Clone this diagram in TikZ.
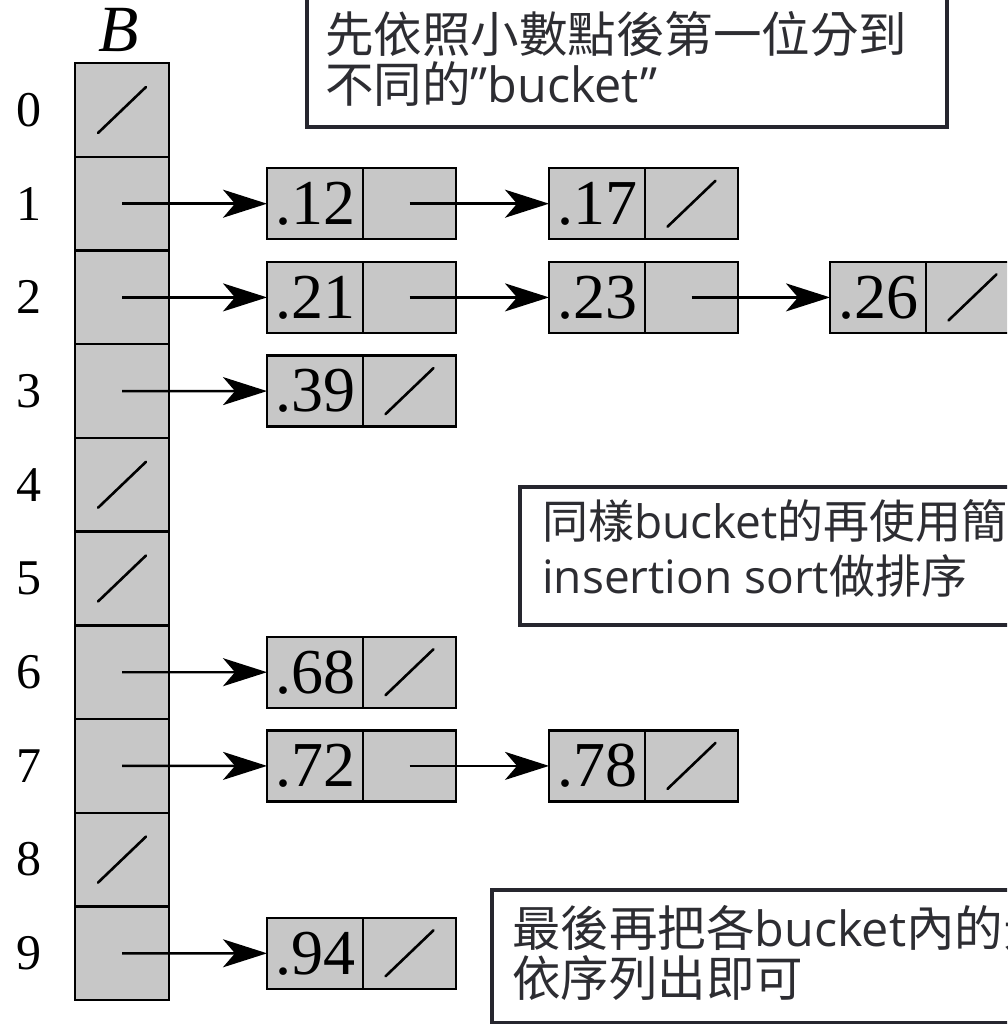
\documentclass[tikz,border=0pt]{standalone}
\usepackage{fontspec}
\setmainfont{Liberation Serif}
\newfontfamily\cjk{Noto Sans CJK TC}
\newfontfamily\lat{Open Sans}
\usetikzlibrary{arrows.meta}
\definecolor{cellgray}{RGB}{199,199,199}
\definecolor{boxline}{RGB}{38,38,46}
\definecolor{notecol}{RGB}{45,45,50}
\newcommand\listelem[4]{%
  \node[valcell] (v#1) at ({#2+48},#3) {#4};
  \node[ptrcell] (p#1) at ({#2+96+46.5},#3) {};}
\newcommand\nilmark[1]{%
  \draw[nilline] ([shift={(-24,23)}]#1.center) -- ([shift={(24,-23)}]#1.center);}
\begin{document}
\begin{tikzpicture}[x=1pt,y=-1pt,
  bcell/.style={draw=black, fill=cellgray, line width=2.4pt, minimum width=94pt, minimum height=93.7pt, inner sep=0pt, outer sep=0pt},
  valcell/.style={draw=black, fill=cellgray, line width=2.4pt, minimum width=96pt, minimum height=71pt, inner sep=0pt, outer sep=0pt, font=\fontsize{64}{64}\selectfont},
  ptrcell/.style={draw=black, fill=cellgray, line width=2.4pt, minimum width=93pt, minimum height=71pt, inner sep=0pt, outer sep=0pt},
  ptr/.style={line width=2.4pt, -{Stealth[length=44pt,width=28pt,inset=12pt]}},
  nilline/.style={line width=2.6pt, line cap=round},
  idx/.style={font=\fontsize{50}{50}\selectfont, inner sep=0pt},
  notebox/.style={draw=boxline, line width=4pt, fill=white, inner sep=0pt},
  notetext/.style={anchor=base west, inner sep=0pt, text=notecol},
  big/.style={font=\fontsize{48.5}{50}\selectfont\cjk},
  mid/.style={font=\fontsize{46}{50}\selectfont\cjk},
]
\useasboundingbox (0,0) rectangle (1007,1024);
\clip (0,0) rectangle (1007,1024);
\fill[white] (0,0) rectangle (1007,1024);

\node[font=\fontsize{66}{66}\selectfont\itshape, inner sep=0pt] (blabel) at (119,30) {B};
\foreach \i in {0,...,9} {
  \node[bcell] (b\i) at (122,{110+93.7*\i}) {};
  \node[idx] (l\i) at (29,{110+93.7*\i}) {\i};
}

\listelem{12}{267}{203.7}{.12}
\listelem{17}{549}{203.7}{.17}
\listelem{21}{267}{297.4}{.21}
\listelem{23}{549}{297.4}{.23}
\listelem{26}{830}{297.4}{.26}
\listelem{39}{267}{391.1}{.39}
\listelem{68}{267}{672.2}{.68}
\listelem{72}{267}{765.9}{.72}
\listelem{78}{549}{765.9}{.78}
\listelem{94}{267}{953.3}{.94}

\draw[ptr] (b1.center) -- (v12.west);
\draw[ptr] (p12.center) -- (v17.west);
\draw[ptr] (b2.center) -- (v21.west);
\draw[ptr] (p21.center) -- (v23.west);
\draw[ptr] (p23.center) -- (v26.west);
\draw[ptr] (b3.center) -- (v39.west);
\draw[ptr] (b6.center) -- (v68.west);
\draw[ptr] (b7.center) -- (v72.west);
\draw[ptr] (p72.center) -- (v78.west);
\draw[ptr] (b9.center) -- (v94.west);

\nilmark{b0}\nilmark{b4}\nilmark{b5}\nilmark{b8}
\nilmark{p17}\nilmark{p26}\nilmark{p39}\nilmark{p68}\nilmark{p78}\nilmark{p94}

\node[notebox, anchor=north west, minimum width=640pt, minimum height=135pt] (note1) at (305,-10) {};
\node[notetext, big] (t1a) at (325,53) {先依照小數點後第一位分到};
\node[notetext, big] (t1b) at (325,103) {不同的{\lat ”bucket”}};

\node[notebox, anchor=north west, minimum width=600pt, minimum height=138pt] (note2) at (518,485) {};
\node[notetext, mid] (t2a) at (542,538) {同樣{\lat bucket}的再使用簡};
\node[notetext, mid] (t2b) at (542,593) {{\lat insertion sort}做排序};

\node[notebox, anchor=north west, minimum width=600pt, minimum height=133pt] (note3) at (490,888) {};
\node[notetext, big] (t3a) at (512,946) {最後再把各{\lat bucket}內的元};
\node[notetext, big] (t3b) at (512,996) {依序列出即可};
\end{tikzpicture}
\end{document}
